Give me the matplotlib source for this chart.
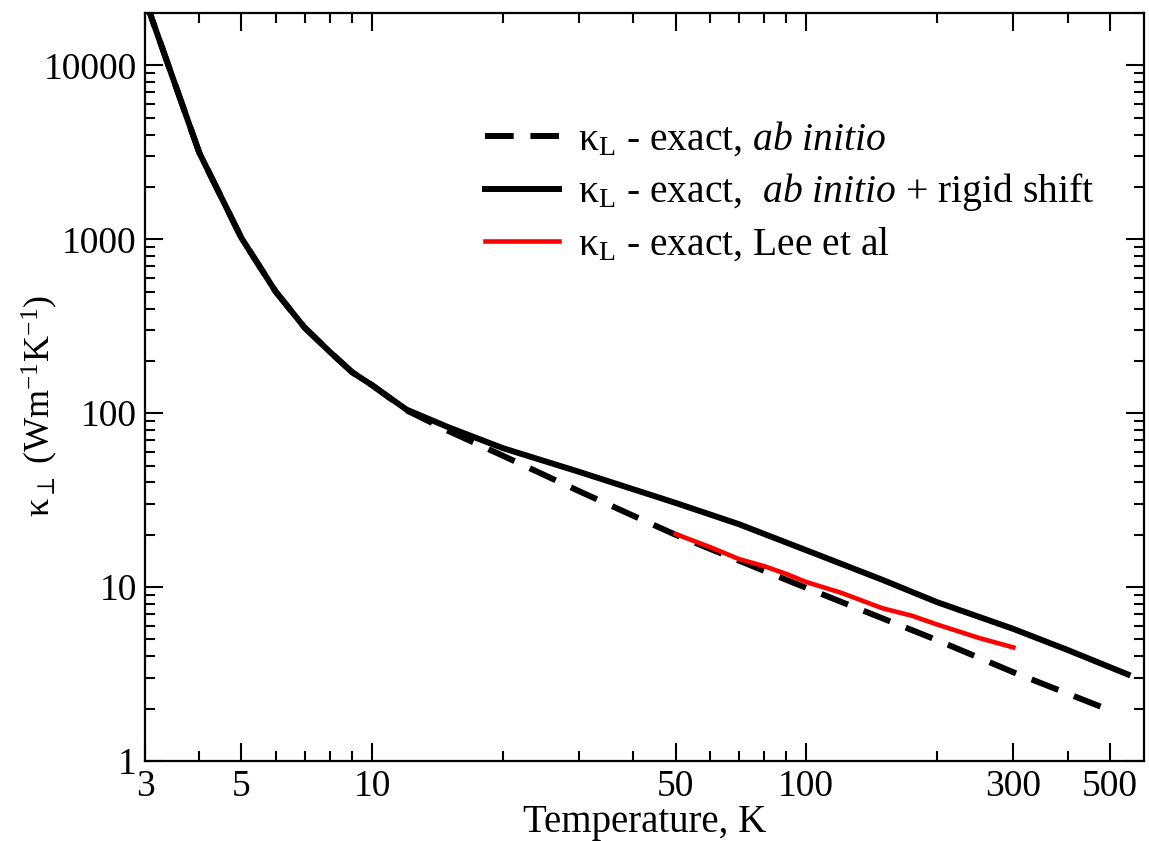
import matplotlib
matplotlib.use("Agg")
import matplotlib.pyplot as plt
from matplotlib.ticker import FixedLocator, NullFormatter, LogLocator

plt.rcParams['font.family'] = ['Liberation Serif', 'DejaVu Serif']
plt.rcParams['mathtext.fontset'] = 'custom'
plt.rcParams['mathtext.rm'] = 'Liberation Serif'
plt.rcParams['mathtext.it'] = 'Liberation Serif:italic'
plt.rcParams['mathtext.bf'] = 'Liberation Serif:bold'

# ab initio + rigid shift (solid black)
temp_shift = [3, 4, 5, 6, 7, 8, 9, 10, 12, 15, 20, 30, 40, 50, 70, 100, 150, 200, 300, 400, 550]
kappa_shift = [24000, 3150, 1020, 500, 310, 225, 172, 145, 105, 83, 63, 46, 36.5, 30.5, 23,
               16.3, 11.0, 8.2, 5.75, 4.35, 3.15]

# ab initio (dashed black)
temp_abinit = [3, 4, 5, 6, 7, 8, 9, 10, 12, 15, 20, 30, 40, 50, 70, 100, 200, 300, 500]
kappa_abinit = [24000, 3150, 1020, 500, 310, 225, 172, 145, 104, 79, 57, 35.6, 25.7, 20, 14.2,
                9.9, 4.96, 3.24, 1.96]

# Lee et al (red)
temp_lee = [50, 60, 70, 80, 90, 100, 120, 150, 175, 200, 250, 300]
kappa_lee = [20.2, 17.0, 14.5, 13.2, 11.9, 10.7, 9.3, 7.55, 6.85, 6.1, 5.1, 4.5]

xticks = [3, 5, 10, 50, 100, 300, 500]
xminor = [4, 6, 7, 8, 9, 20, 30, 40, 60, 70, 80, 90, 200, 400]
yticks = [1, 10, 100, 1000, 10000]

labels = [r'κ$_{\rm L}$ - exact, $\it{ab\ initio}$',
          r'κ$_{\rm L}$ - exact,  $\it{ab\ initio}$ + rigid shift',
          r'κ$_{\rm L}$ - exact, Lee et al']

fig = plt.figure(figsize=(11.49, 8.41), dpi=100)
ax = fig.add_axes([0.1262, 0.0951, 0.8695, 0.8894])

ax.plot(temp_abinit, kappa_abinit, color='black', lw=4.3, linestyle=(0, (4.8, 2.8)),
        label=labels[0])
ax.plot(temp_shift, kappa_shift, color='black', lw=4.3, label=labels[1])
ax.plot(temp_lee, kappa_lee, color='red', lw=3.3, label=labels[2])

ax.set_xscale('log')
ax.set_yscale('log')
ax.set_xlim(3, 600)
ax.set_ylim(1, 20000)

ax.xaxis.set_major_locator(FixedLocator(xticks))
ax.xaxis.set_minor_locator(FixedLocator(xminor))
ax.set_xticklabels([str(t) for t in xticks])
ax.xaxis.set_minor_formatter(NullFormatter())
ax.yaxis.set_major_locator(FixedLocator(yticks))
ax.yaxis.set_minor_locator(LogLocator(base=10, subs=range(2, 10), numticks=20))
ax.set_yticklabels([str(t) for t in yticks])
ax.yaxis.set_minor_formatter(NullFormatter())

ax.tick_params(which='both', direction='in', top=True, right=True, width=1.5,
               labelsize=27, pad=6)
ax.tick_params(which='major', length=13)
ax.tick_params(which='minor', length=7)
for sp in ax.spines.values():
    sp.set_linewidth(1.6)

ax.set_xlabel('Temperature, K', fontsize=28, labelpad=0)
ax.set_ylabel(r'κ$_{\perp}$ (Wm$^{-1}$K$^{-1}$)', fontsize=26)
ax.yaxis.set_label_coords(-0.085, 0.474)

ax.legend(loc='upper left', bbox_to_anchor=(0.34, 0.857), frameon=False, fontsize=28.5,
          handlelength=1.87, handletextpad=0.5, borderpad=0, borderaxespad=0,
          labelspacing=0.32)

fig.savefig('out.png', dpi=100)
